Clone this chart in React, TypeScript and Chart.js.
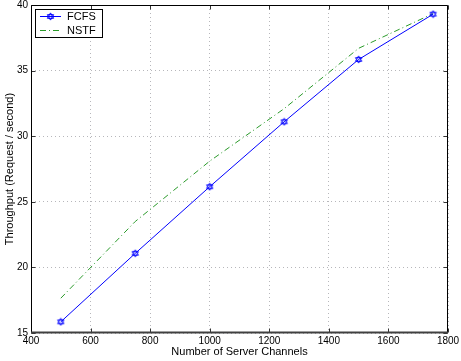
import React, { useEffect, useRef } from 'react';
import { Chart, registerables } from 'chart.js';

Chart.register(...registerables);

// ---- data ----
const channels = [500, 750, 1000, 1250, 1500, 1750];
const fcfs = [15.85, 21.07, 26.15, 31.1, 35.85, 39.3];
const nstf = [17.65, 23.5, 28.1, 32.1, 36.7, 39.35];
const seriesLabels = ['FCFS', 'NSTF'];
const xTitle = 'Number of Server Channels';
const yTitle = 'Throughput (Request / second)';
const xRange = [400, 1800];
const yRange = [15, 40];
const xStep = 200;
const yStep = 5;

const FONT = '"Liberation Sans", Arial, Helvetica, sans-serif';
const BLUE = '#0000ff';
const GREEN = '#2a9a2a';
const GREEN_DASH = [6, 3, 1, 3];
const GRID = 'rgba(165,165,170,0.8)';

function makeHexagram(color: string) {
  const c = document.createElement('canvas');
  c.width = 9;
  c.height = 9;
  const ctx = c.getContext('2d')!;
  ctx.strokeStyle = color;
  ctx.lineWidth = 1;
  const cx = 4.5, cy = 4.5, r = 3.6;
  for (const start of [-90, 90]) {
    ctx.beginPath();
    for (let i = 0; i < 3; i++) {
      const a = ((start + 120 * i) * Math.PI) / 180;
      const px = cx + r * Math.cos(a);
      const py = cy + r * Math.sin(a);
      if (i === 0) ctx.moveTo(px, py);
      else ctx.lineTo(px, py);
    }
    ctx.closePath();
    ctx.stroke();
  }
  return c;
}

const framePlugin = {
  id: 'matlabFrame',
  afterDraw(chart: any) {
    const { ctx, chartArea: a, scales } = chart;
    const L = Math.round(a.left) + 0.5;
    const R = Math.round(a.right) - 0.5;
    const T = Math.round(a.top) + 0.5;
    const B = Math.round(a.bottom) - 0.5;
    ctx.save();
    // inward ticks
    ctx.strokeStyle = '#333';
    ctx.lineWidth = 1;
    const tl = 4;
    ctx.beginPath();
    scales.x.ticks.forEach((t: any) => {
      const x = Math.round(scales.x.getPixelForValue(t.value)) + 0.5;
      ctx.moveTo(x, B);
      ctx.lineTo(x, B - tl);
      ctx.moveTo(x, T);
      ctx.lineTo(x, T + tl);
    });
    scales.y.ticks.forEach((t: any) => {
      const y = Math.round(scales.y.getPixelForValue(t.value)) + 0.5;
      ctx.moveTo(L, y);
      ctx.lineTo(L + tl, y);
      ctx.moveTo(R, y);
      ctx.lineTo(R - tl, y);
    });
    ctx.stroke();
    // frame
    ctx.strokeStyle = '#000';
    ctx.beginPath();
    ctx.moveTo(L, B);
    ctx.lineTo(L, T);
    ctx.lineTo(R, T);
    ctx.lineTo(R, B);
    ctx.stroke();
    ctx.strokeStyle = '#404040';
    ctx.lineWidth = 2;
    ctx.beginPath();
    ctx.moveTo(L - 0.5, B);
    ctx.lineTo(R + 0.5, B);
    ctx.stroke();

    // legend
    const bx = 35.5, by = 9.5, bw = 67, bh = 28;
    ctx.fillStyle = '#fff';
    ctx.fillRect(bx, by, bw, bh);
    ctx.strokeStyle = '#000';
    ctx.lineWidth = 1;
    ctx.strokeRect(bx, by, bw, bh);
    const rows = [16, 30];
    chart.data.datasets.forEach((ds: any, i: number) => {
      const y = rows[i] + 0.5;
      ctx.strokeStyle = ds.borderColor;
      ctx.lineWidth = 1;
      ctx.setLineDash(ds.borderDash || []);
      ctx.beginPath();
      ctx.moveTo(40, y);
      ctx.lineTo(61, y);
      ctx.stroke();
      ctx.setLineDash([]);
      if (ds.pointStyle && typeof ds.pointStyle !== 'string' && ds.pointRadius > 0) {
        const img = ds.pointStyle;
        ctx.drawImage(img, 50.5 - img.width / 2, y - img.height / 2);
      }
      ctx.fillStyle = '#000';
      ctx.font = `11px ${FONT}`;
      ctx.textBaseline = 'middle';
      ctx.textAlign = 'left';
      ctx.fillText(ds.label, 67, rows[i] + 0.5);
    });
    ctx.restore();
  },
};

export default function App() {
  const ref = useRef<HTMLCanvasElement | null>(null);

  useEffect(() => {
    if (!ref.current) return;
    const hex = makeHexagram(BLUE);
    const chart = new Chart(ref.current, {
      type: 'line',
      data: {
        datasets: [
          {
            label: seriesLabels[0],
            data: channels.map((x, i) => ({ x, y: fcfs[i] })),
            borderColor: BLUE,
            backgroundColor: BLUE,
            borderWidth: 1,
            pointStyle: hex as any,
            pointRadius: 4,
            tension: 0,
          },
          {
            label: seriesLabels[1],
            data: channels.map((x, i) => ({ x, y: nstf[i] })),
            borderColor: GREEN,
            backgroundColor: GREEN,
            borderWidth: 1,
            borderDash: GREEN_DASH,
            pointRadius: 0,
            tension: 0,
          },
        ],
      },
      options: {
        animation: false,
        responsive: false,
        layout: { padding: { top: 5, right: 13, left: 0, bottom: 0 } },
        plugins: { legend: { display: false }, tooltip: { enabled: false } },
        scales: {
          x: {
            type: 'linear',
            min: xRange[0],
            max: xRange[1],
            ticks: {
              stepSize: xStep,
              padding: 2,
              color: '#000',
              font: { family: FONT, size: 10 },
              maxRotation: 0,
              callback: (v: any) => String(v),
            },
            grid: {
              color: GRID,
              drawTicks: false,
              lineWidth: 1,
            },
            border: { display: false, dash: [1, 3] },
            title: {
              display: true,
              text: xTitle,
              color: '#000',
              font: { family: FONT, size: 11 },
              padding: { top: 0, bottom: 2 },
            },
            afterFit: (s: any) => {
              s.height = 28;
              s.paddingLeft = 0;
              s.paddingRight = 0;
            },
          },
          y: {
            type: 'linear',
            min: yRange[0],
            max: yRange[1],
            ticks: {
              stepSize: yStep,
              padding: 3,
              color: '#000',
              font: { family: FONT, size: 10 },
              callback: (v: any) => String(v),
            },
            grid: {
              color: GRID,
              drawTicks: false,
              lineWidth: 1,
            },
            border: { display: false, dash: [1, 3] },
            title: {
              display: true,
              text: yTitle,
              color: '#000',
              font: { family: FONT, size: 11 },
              padding: { top: 3, bottom: 0 },
            },
            afterFit: (s: any) => {
              s.width = 31;
              s.paddingTop = 0;
              s.paddingBottom = 0;
            },
          },
        },
      },
      plugins: [framePlugin],
    });
    return () => chart.destroy();
  }, []);

  return (
    <div style={{ position: 'fixed', left: 0, top: 0, width: 461, height: 361, background: '#fff' }}>
      <canvas ref={ref} width={461} height={361} style={{ width: 461, height: 361, display: 'block' }} />
    </div>
  );
}
